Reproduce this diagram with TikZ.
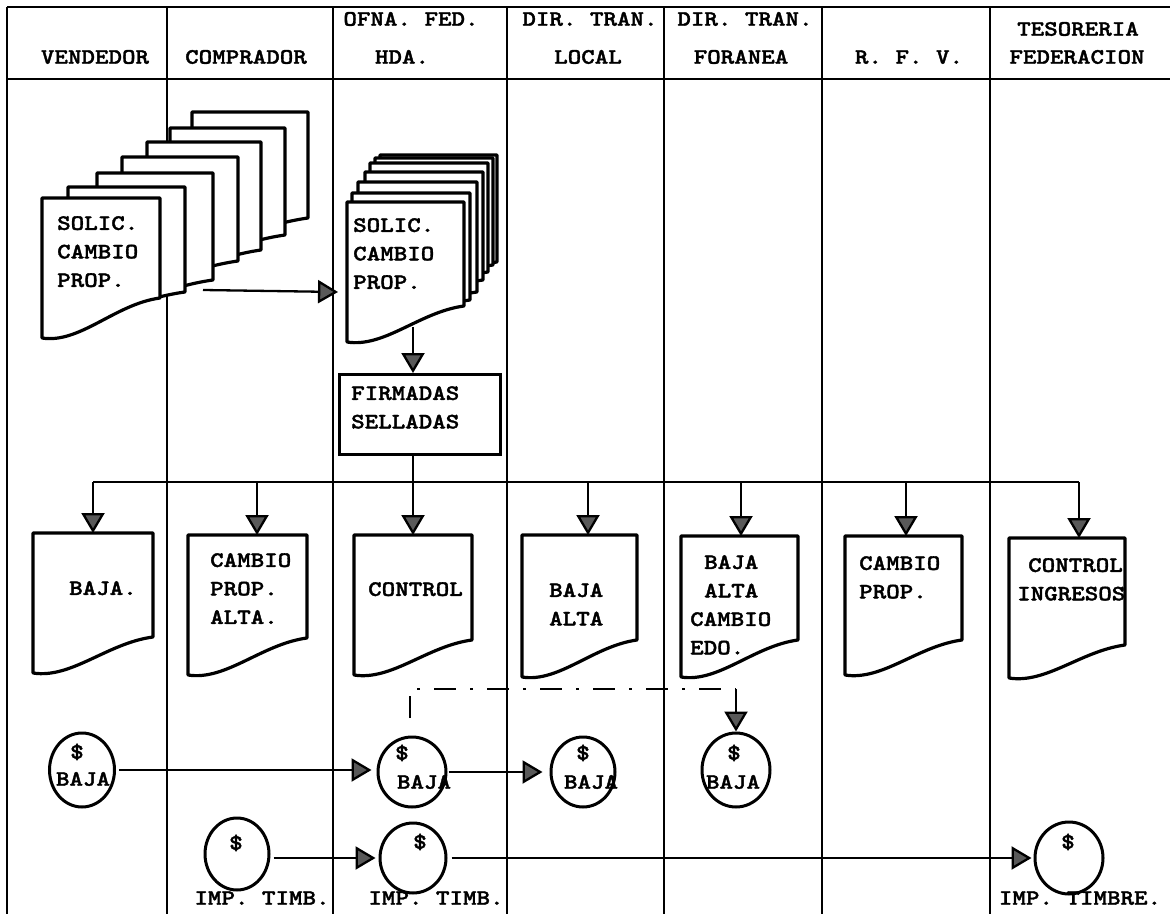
\documentclass[tikz,border=0pt]{standalone}
\usepackage{fontspec}
\IfFontExistsTF{lmmonolt10-bold.otf}
  {\newfontfamily\tw{lmmonolt10-bold.otf}[FakeStretch=1.17,FakeBold=1.6]}
  {\newfontfamily\tw{Liberation Mono Bold}}
\usetikzlibrary{arrows.meta,shapes.geometric,calc}

\newcommand\docu[5]{% x y W Hr Hl
  \pgfmathsetmacro\dxr{#1+#3}%
  \pgfmathsetmacro\dyr{#2+#4}%
  \pgfmathsetmacro\dyl{#2+#5}%
  \pgfmathsetmacro\cax{#1+0.62*#3}%
  \pgfmathsetmacro\cay{#2+#4+6}%
  \pgfmathsetmacro\cbx{#1+0.32*#3}%
  \pgfmathsetmacro\cby{#2+#5+6}%
  \draw[docline] (#1,#2) -- (\dxr,#2) -- (\dxr,\dyr)
     .. controls (\cax,\cay) and (\cbx,\cby) .. (#1,\dyl) -- cycle;}

\tikzset{
  lane/.style={line width=2.2pt},
  docline/.style={line width=3.2pt, fill=white, line join=round},
  link/.style={line width=2.3pt},
  arr/.style={link, -{Triangle[width=23pt,length=20pt,fill=black!65]}},
  tx/.style={font={\tw\fontsize{22}{28.5}\selectfont}, inner sep=0pt, align=left, anchor=north west},
  hd/.style={font={\tw\fontsize{22}{28.5}\selectfont}, inner sep=0pt, text height=13.4pt, text depth=0pt, anchor=center},
  coin/.style={ellipse, draw, line width=3pt, inner sep=0pt},
  dd/.style={link, dash pattern=on 22pt off 14pt on 3pt off 14pt},
}

\begin{document}
\begin{tikzpicture}[x=1pt,y=-1pt]
\fill[white] (0,0) rectangle (1170,917);
\useasboundingbox (0,0) rectangle (1170,917);

% lanes and header
\draw[lane] (7,7) -- (1170,7);
\draw[lane] (7,79) -- (1170,79);
\foreach \lx in {7,167,333,507,664,822,990}{\draw[lane] (\lx,7) -- (\lx,914);}

\node[hd] (h1) at (95,57) {VENDEDOR};
\node[hd] (h2) at (246,57) {COMPRADOR};
\node[hd] (h3a) at (411,19) {OFNA. FED.};
\node[hd] (h3b) at (402,57) {HDA.};
\node[hd] (h4a) at (590,19) {DIR. TRAN.};
\node[hd] (h4b) at (588,57) {LOCAL};
\node[hd] (h5a) at (745,19) {DIR. TRAN.};
\node[hd] (h5b) at (741,57) {FORANEA};
\node[hd] (h6) at (909,57) {R. F. V.};
\node[hd] (h7a) at (1078,29) {TESORERIA};
\node[hd] (h7b) at (1077,57) {FEDERACION};

% vendedor stack
\docu{192}{112}{116}{106}{126}
\docu{170}{128}{115}{107}{127}
\docu{147}{142}{114}{108}{128}
\docu{122}{157}{116}{104}{124}
\docu{97}{173}{116}{107}{127}
\docu{68}{187}{117}{105}{125}
\docu{42}{198}{118}{100}{140}
\node[tx] (t1) at (57,216) {SOLIC.\\CAMBIO\\PROP.};

% ofna stack
\docu{380}{155}{117}{107}{127}
\docu{375}{158}{118}{107}{127}
\docu{370}{163}{118}{109}{129}
\docu{365}{172}{118}{108}{128}
\docu{358}{182}{119}{110}{130}
\docu{352}{193}{118}{107}{127}
\docu{347}{202}{117}{104}{140}
\node[tx] (t2) at (353,218) {SOLIC.\\CAMBIO\\PROP.};

\coordinate (vout) at (203,290);
\coordinate (oin) at (338,292);
\draw[arr] (vout) -- (oin);

\node[draw, line width=3.2pt, minimum width=161pt, minimum height=80pt, anchor=north west, inner sep=0pt] (box) at (338,373) {};
\node[tx] (t3) at (351,386) {FIRMADAS\\SELLADAS};
\coordinate (obot) at (413,327);
\draw[arr] (obot) -- (obot |- box.north);

% second row documents
\docu{33}{533}{120}{104}{140}
\docu{188}{535}{119}{103}{140}
\docu{354}{535}{118}{105}{140}
\docu{522}{535}{115}{105}{142}
\docu{681}{536}{117}{104}{141}
\docu{845}{536}{117}{104}{139}
\docu{1009}{538}{116}{107}{140}

\node[tx] (t4) at (69,581) {BAJA.};
\node[tx] (t5) at (210,553) {CAMBIO\\PROP.\\ALTA.};
\node[tx] (t6) at (368,582) {CONTROL};
\node[tx] (t7) at (549,583) {BAJA\\ALTA};
\node[tx] (t8) at (690,555) {\hspace*{14pt}BAJA\\\hspace*{14pt}ALTA\\CAMBIO\\EDO.};
\node[tx] (t9) at (859,556) {CAMBIO\\PROP.};
\node[tx] (t10) at (1017,558) {\hspace*{11pt}CONTROL\\INGRESOS};

% distribution bus
\coordinate (bus) at (0,482);
\coordinate (i1) at (93,533);
\coordinate (i2) at (257,535);
\coordinate (i3) at (413,535);
\coordinate (i4) at (588,535);
\coordinate (i5) at (741,536);
\coordinate (i6) at (906,536);
\coordinate (i7) at (1079,538);
\draw[link] (i1 |- bus) -- (i7 |- bus);
\draw[arr] (i3 |- box.south) -- (i3);
\foreach \i in {i1,i2,i4,i5,i6,i7}{\draw[arr] (\i |- bus) -- (\i);}

% coins
\node[coin, minimum width=65pt, minimum height=74pt] (c1) at (82,770) {};
\node[coin, minimum width=68pt, minimum height=70pt] (c2) at (412,772) {};
\node[coin, minimum width=64pt, minimum height=70pt] (c3) at (583,772) {};
\node[coin, minimum width=68pt, minimum height=74pt] (c4) at (736,770) {};
\node[coin, minimum width=64pt, minimum height=72pt] (c5) at (237,854) {};
\node[coin, minimum width=66pt, minimum height=70pt] (c6) at (413,858) {};
\node[coin, minimum width=68pt, minimum height=72pt] (c7) at (1069,858) {};

\node[hd] (s1) at (77,752) {\$};
\node[hd] (b1) at (83,779) {BAJA};
\node[hd] (s2) at (402,753) {\$};
\node[hd] (b2) at (424,782) {BAJA};
\node[hd] (s3) at (583,753) {\$};
\node[hd] (b3) at (591,782) {BAJA};
\node[hd] (s4) at (734,753) {\$};
\node[hd] (b4) at (733,782) {BAJA};
\node[hd] (s5) at (236,843) {\$};
\node[hd] (s6) at (420,842) {\$};
\node[hd] (s7) at (1068,842) {\$};
\node[hd] (l5) at (262,898) {IMP. TIMB.};
\node[hd] (l6) at (436,898) {IMP. TIMB.};
\node[hd] (l7) at (1080,898) {IMP. TIMBRE.};

\draw[arr, shorten <=3pt, shorten >=5pt] (c1.east) -- (c1.east -| c2.west);
\draw[arr, shorten <=1pt, shorten >=7pt] (c2.east) -- (c2.east -| c3.west);
\draw[arr, shorten <=3pt, shorten >=3pt] ([yshift=-4pt]c5.east) -- ([yshift=-4pt]c5.east -| c6.west);
\draw[arr, shorten <=4pt, shorten >=2pt] (c6.east) -- (c6.east -| c7.west);

% dash-dot link
\coordinate (ddstart) at (410,718);
\coordinate (ddturn) at (736,689);
\draw[dd] (ddstart) |- (ddturn);
\draw[arr] (ddturn) -- (c4.north);
\end{tikzpicture}
\end{document}
